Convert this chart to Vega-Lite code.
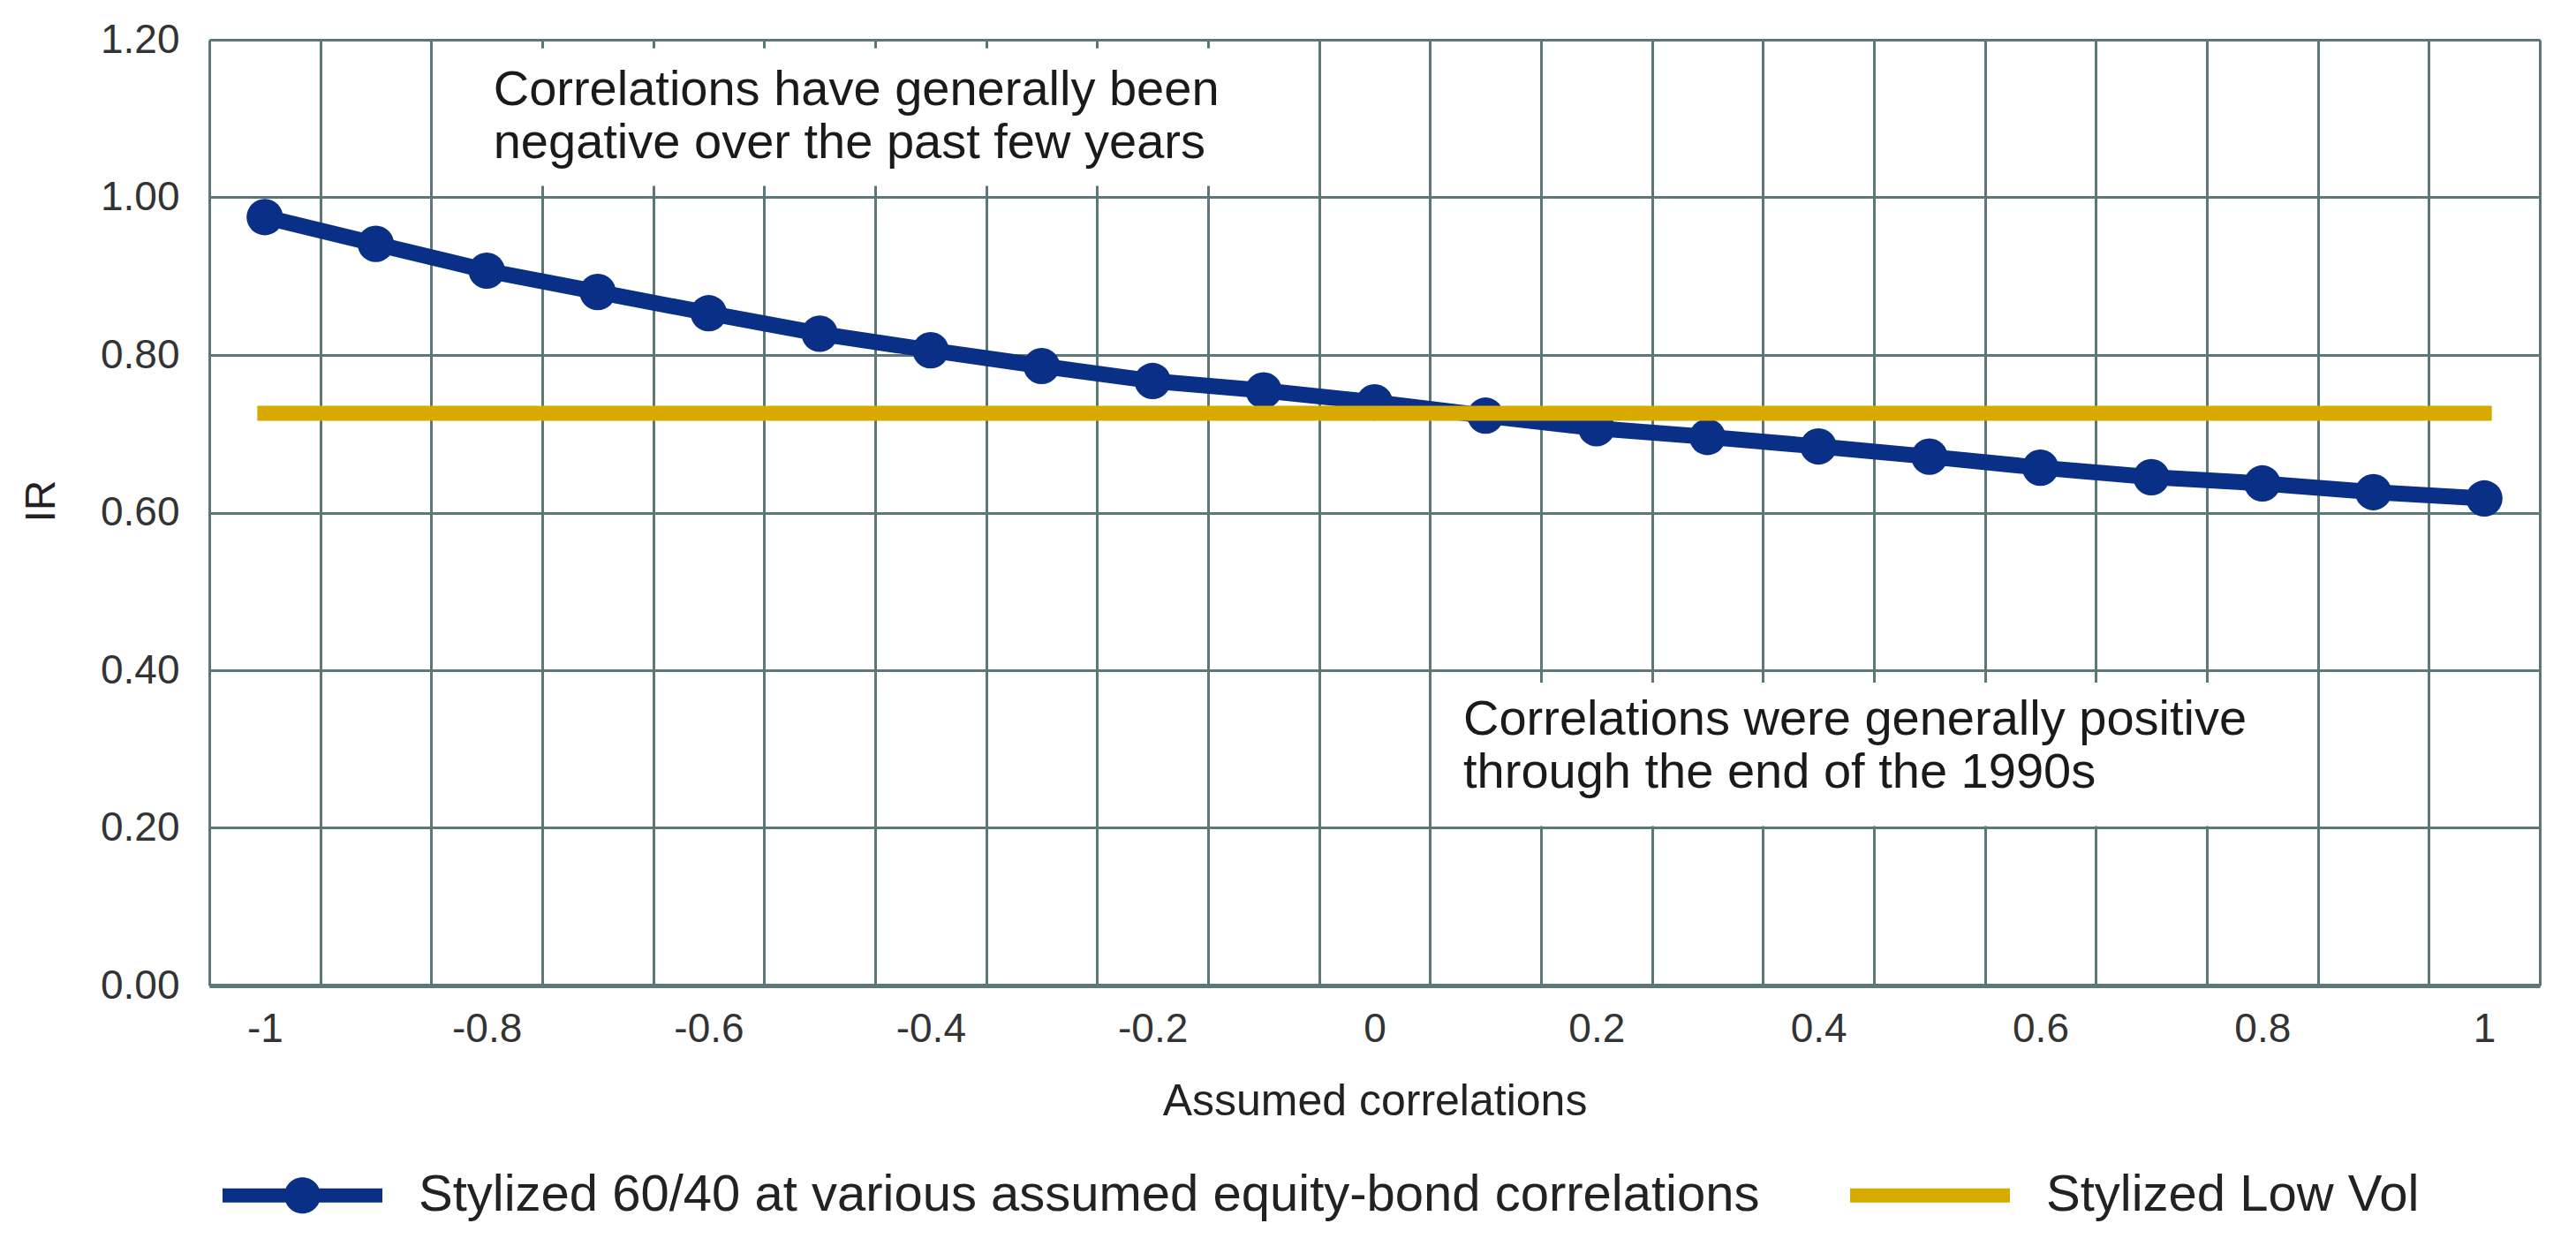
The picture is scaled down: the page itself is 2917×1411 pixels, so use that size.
{
  "$schema": "https://vega.github.io/schema/vega-lite/v6.json",
  "width": 2639,
  "height": 1071,
  "autosize": {"type": "none"},
  "padding": {"left": 237, "top": 45, "right": 41, "bottom": 295},
  "background": "white",
  "config": {"view": {"stroke": null}, "font": "Liberation Sans"},
  "datasets": {
    "series": [
      {"corr": -1.0, "series": "Stylized 60/40 at various assumed equity-bond correlations", "ir": 0.975},
      {"corr": -0.9, "series": "Stylized 60/40 at various assumed equity-bond correlations", "ir": 0.941},
      {"corr": -0.8, "series": "Stylized 60/40 at various assumed equity-bond correlations", "ir": 0.907},
      {"corr": -0.7, "series": "Stylized 60/40 at various assumed equity-bond correlations", "ir": 0.880},
      {"corr": -0.6, "series": "Stylized 60/40 at various assumed equity-bond correlations", "ir": 0.853},
      {"corr": -0.5, "series": "Stylized 60/40 at various assumed equity-bond correlations", "ir": 0.827},
      {"corr": -0.4, "series": "Stylized 60/40 at various assumed equity-bond correlations", "ir": 0.806},
      {"corr": -0.3, "series": "Stylized 60/40 at various assumed equity-bond correlations", "ir": 0.786},
      {"corr": -0.2, "series": "Stylized 60/40 at various assumed equity-bond correlations", "ir": 0.767},
      {"corr": -0.1, "series": "Stylized 60/40 at various assumed equity-bond correlations", "ir": 0.755},
      {"corr": 0.0, "series": "Stylized 60/40 at various assumed equity-bond correlations", "ir": 0.740},
      {"corr": 0.1, "series": "Stylized 60/40 at various assumed equity-bond correlations", "ir": 0.723},
      {"corr": 0.2, "series": "Stylized 60/40 at various assumed equity-bond correlations", "ir": 0.707},
      {"corr": 0.3, "series": "Stylized 60/40 at various assumed equity-bond correlations", "ir": 0.696},
      {"corr": 0.4, "series": "Stylized 60/40 at various assumed equity-bond correlations", "ir": 0.684},
      {"corr": 0.5, "series": "Stylized 60/40 at various assumed equity-bond correlations", "ir": 0.671},
      {"corr": 0.6, "series": "Stylized 60/40 at various assumed equity-bond correlations", "ir": 0.657},
      {"corr": 0.7, "series": "Stylized 60/40 at various assumed equity-bond correlations", "ir": 0.645},
      {"corr": 0.8, "series": "Stylized 60/40 at various assumed equity-bond correlations", "ir": 0.637},
      {"corr": 0.9, "series": "Stylized 60/40 at various assumed equity-bond correlations", "ir": 0.626},
      {"corr": 1.0, "series": "Stylized 60/40 at various assumed equity-bond correlations", "ir": 0.618},
      {"corr": -1.0, "series": "Stylized Low Vol", "ir": 0.726},
      {"corr": -0.9, "series": "Stylized Low Vol", "ir": 0.726},
      {"corr": -0.8, "series": "Stylized Low Vol", "ir": 0.726},
      {"corr": -0.7, "series": "Stylized Low Vol", "ir": 0.726},
      {"corr": -0.6, "series": "Stylized Low Vol", "ir": 0.726},
      {"corr": -0.5, "series": "Stylized Low Vol", "ir": 0.726},
      {"corr": -0.4, "series": "Stylized Low Vol", "ir": 0.726},
      {"corr": -0.3, "series": "Stylized Low Vol", "ir": 0.726},
      {"corr": -0.2, "series": "Stylized Low Vol", "ir": 0.726},
      {"corr": -0.1, "series": "Stylized Low Vol", "ir": 0.726},
      {"corr": 0.0, "series": "Stylized Low Vol", "ir": 0.726},
      {"corr": 0.1, "series": "Stylized Low Vol", "ir": 0.726},
      {"corr": 0.2, "series": "Stylized Low Vol", "ir": 0.726},
      {"corr": 0.3, "series": "Stylized Low Vol", "ir": 0.726},
      {"corr": 0.4, "series": "Stylized Low Vol", "ir": 0.726},
      {"corr": 0.5, "series": "Stylized Low Vol", "ir": 0.726},
      {"corr": 0.6, "series": "Stylized Low Vol", "ir": 0.726},
      {"corr": 0.7, "series": "Stylized Low Vol", "ir": 0.726},
      {"corr": 0.8, "series": "Stylized Low Vol", "ir": 0.726},
      {"corr": 0.9, "series": "Stylized Low Vol", "ir": 0.726},
      {"corr": 1.0, "series": "Stylized Low Vol", "ir": 0.726}
    ],
    "boxes": [
      {"x1": -0.8475, "x2": -0.0525, "y1": 1.0146, "y2": 1.189},
      {"x1": 0.0525, "x2": 0.8475, "y1": 0.2022, "y2": 0.3843}
    ],
    "notes": [
      {"x": -0.794, "y": 1.117, "note": "Correlations have generally been\nnegative over the past few years"},
      {"x": 0.080, "y": 0.3185, "note": "Correlations were generally positive\nthrough the end of the 1990s"}
    ]
  },
  "layer": [
    {
      "data": {"name": "boxes"},
      "mark": {"type": "rect", "fill": "white", "strokeWidth": 0},
      "encoding": {
        "x": {
          "field": "x1", "type": "quantitative",
          "scale": {"domain": [-1.05, 1.05], "nice": false, "zero": false},
          "axis": {
            "values": [-1.05, -0.95, -0.85, -0.75, -0.65, -0.55, -0.45, -0.35, -0.25, -0.15, -0.05, 0.05, 0.15, 0.25, 0.35, 0.45, 0.55, 0.65, 0.75, 0.85, 0.95, 1.05],
            "labelExpr": "round((datum.value + 1.05) * 10) % 2 === 0 ? toString(round((datum.value + 0.05) * 10) / 10) : ''",
            "labelOffset": 62.83,
            "labelPadding": 27,
            "labelFontSize": 46,
            "labelColor": "#333333",
            "labelOverlap": false,
            "labelBound": false,
            "labelFlush": false,
            "ticks": false,
            "grid": true,
            "gridColor": "#5b7777",
            "gridWidth": 3,
            "domainColor": "#5b7777",
            "domainWidth": 5,
            "title": "Assumed correlations",
            "titleFontSize": 50,
            "titleFontWeight": "normal",
            "titleColor": "#222222",
            "titleBaseline": "alphabetic",
            "titleY": 146
          }
        },
        "x2": {"field": "x2"},
        "y": {
          "field": "y1", "type": "quantitative",
          "scale": {"domain": [0, 1.2], "nice": false, "zero": true},
          "axis": {
            "values": [0, 0.2, 0.4, 0.6, 0.8, 1.0, 1.2],
            "format": ".2f",
            "labelFontSize": 46,
            "labelPadding": 34,
            "labelColor": "#333333",
            "ticks": false,
            "domain": false,
            "grid": true,
            "gridColor": "#5b7777",
            "gridWidth": 3,
            "title": "IR",
            "titleFontSize": 48,
            "titleFontWeight": "normal",
            "titleColor": "#222222",
            "titleAngle": -90,
            "titleAlign": "center",
            "titleBaseline": "alphabetic",
            "titleX": -176,
            "titleY": 522
          }
        },
        "y2": {"field": "y2"}
      }
    },
    {
      "data": {"name": "series"},
      "transform": [{"filter": "datum.series !== 'Stylized Low Vol'"}],
      "mark": {"type": "line", "strokeWidth": 18, "strokeJoin": "round"},
      "encoding": {
        "x": {"field": "corr", "type": "quantitative"},
        "y": {"field": "ir", "type": "quantitative"},
        "color": {
          "field": "series", "type": "nominal",
          "scale": {
            "domain": ["Stylized 60/40 at various assumed equity-bond correlations", "Stylized Low Vol"],
            "range": ["#0a2f86", "#d8aa00"]
          },
          "legend": {
            "orient": "none",
            "legendX": 15,
            "legendY": 1218,
            "direction": "horizontal",
            "title": null,
            "padding": 0,
            "labelFontSize": 58,
            "labelFont": "Liberation Sans",
            "labelColor": "#222222",
            "labelLimit": 3000,
            "labelOffset": 41,
            "columnPadding": 102,
            "symbolSize": 32761,
            "symbolType": "M-1,-0.088H1V0.088H-1Z",
            "encode": {
              "symbols": {
                "update": {
                  "shape": {"signal": "datum.value === 'Stylized Low Vol' ? 'M-1,-0.088H1V0.088H-1Z' : 'M-1,-0.088H1V0.088H-1Z M-0.2265,0A0.2265,0.2265 0 1,1 0.2265,0A0.2265,0.2265 0 1,1 -0.2265,0Z'"},
                  "fill": {"signal": "datum.value === 'Stylized Low Vol' ? '#d8aa00' : '#0a2f86'"},
                  "stroke": {"value": "transparent"},
                  "strokeWidth": {"value": 0},
                  "opacity": {"value": 1}
                }
              }
            }
          }
        }
      }
    },
    {
      "data": {"name": "series"},
      "transform": [{"filter": "datum.series !== 'Stylized Low Vol'"}],
      "mark": {"type": "point", "filled": true, "shape": "circle", "size": 1700, "opacity": 1},
      "encoding": {
        "x": {"field": "corr", "type": "quantitative"},
        "y": {"field": "ir", "type": "quantitative"},
        "color": {"field": "series", "type": "nominal"}
      }
    },
    {
      "data": {"name": "series"},
      "transform": [{"filter": "datum.series === 'Stylized Low Vol'"}],
      "mark": {"type": "line", "strokeWidth": 17, "strokeCap": "square"},
      "encoding": {
        "x": {"field": "corr", "type": "quantitative"},
        "y": {"field": "ir", "type": "quantitative"},
        "color": {"field": "series", "type": "nominal"}
      }
    },
    {
      "data": {"name": "notes"},
      "mark": {"type": "text", "align": "left", "baseline": "alphabetic", "fontSize": 56, "lineHeight": 60, "lineBreak": "\n", "color": "#1a1a1a", "font": "Liberation Sans"},
      "encoding": {
        "x": {"field": "x", "type": "quantitative"},
        "y": {"field": "y", "type": "quantitative"},
        "text": {"field": "note", "type": "nominal"}
      }
    }
  ]
}
